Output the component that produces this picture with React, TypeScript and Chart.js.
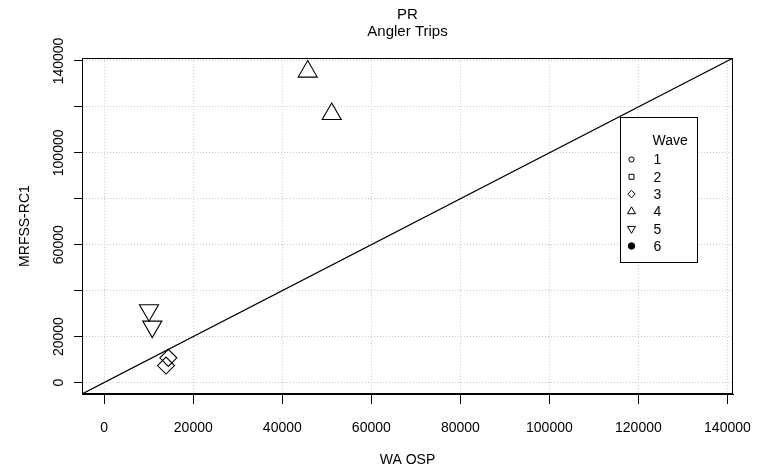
import React, { useEffect, useRef } from 'react';
import { Chart, registerables } from 'chart.js';
import { drawPoint } from 'chart.js/helpers';

Chart.register(...registerables);

// ---- data ----
const axisRange = [-5000, 141250];
const tickValues = [0, 20000, 40000, 60000, 80000, 100000, 120000, 140000];
const yLabelValues = [0, 20000, 60000, 100000, 140000];
const waves = ['1', '2', '3', '4', '5', '6'];
const wave1X: number[] = [];
const wave1Y: number[] = [];
const wave2X: number[] = [];
const wave2Y: number[] = [];
const wave3X = [14390, 13870];
const wave3Y = [10730, 7390];
const wave4X = [45705, 51095];
const wave4Y = [135380, 116910];
const wave5X = [10050, 10790];
const wave5Y = [31465, 24340];
const wave6X: number[] = [];
const wave6Y: number[] = [];
const titleLines = ['PR', 'Angler Trips'];
const xTitle = 'WA OSP';
const yTitle = 'MRFSS-RC1';
const legendTitle = 'Wave';

// ---- styles ----
const FONT = "'Liberation Sans', Arial, Helvetica, sans-serif";
const pointStyles = ['circle', 'rect', 'rectRot', 'triangle', 'triangle', 'circle'];
const pointRotations = [0, 0, 0, 0, 180, 0];
const pointRadii = [5, 6, 8.5, 11, 11, 5];
const pointFills = ['rgba(0,0,0,0)', 'rgba(0,0,0,0)', 'rgba(0,0,0,0)', 'rgba(0,0,0,0)', 'rgba(0,0,0,0)', '#000'];
const legendRadii = [2.6, 3.5, 3.7, 4.6, 4.6, 3.2];

const toPoints = (xs: number[], ys: number[]) => xs.map((x, i) => ({ x, y: ys[i] }));
const waveData = [
  toPoints(wave1X, wave1Y),
  toPoints(wave2X, wave2Y),
  toPoints(wave3X, wave3Y),
  toPoints(wave4X, wave4Y),
  toPoints(wave5X, wave5Y),
  toPoints(wave6X, wave6Y),
];

const framePlugin = {
  id: 'frame',
  afterDatasetsDraw(chart: any) {
    const { ctx, chartArea } = chart;
    const l = Math.round(chartArea.left) + 0.5;
    const t = Math.round(chartArea.top) + 0.5;
    const r = Math.round(chartArea.right) - 0.5;
    const b = Math.round(chartArea.bottom) - 0.5;
    ctx.save();
    ctx.strokeStyle = '#000';
    ctx.lineWidth = 1;
    ctx.strokeRect(l, t, r - l, b - t);
    ctx.restore();
  },
};

const legendPlugin = {
  id: 'waveLegend',
  afterDatasetsDraw(chart: any) {
    const { ctx, chartArea } = chart;
    const bx = Math.round(chartArea.left + (chartArea.right - chartArea.left) * 0.8265) + 0.5;
    const by = Math.round(chartArea.top + (chartArea.bottom - chartArea.top) * 0.1756) + 0.5;
    const bw = 77;
    const bh = 145;
    ctx.save();
    ctx.fillStyle = '#fff';
    ctx.fillRect(bx, by, bw, bh);
    ctx.strokeStyle = '#000';
    ctx.lineWidth = 1;
    ctx.strokeRect(bx, by, bw, bh);
    ctx.fillStyle = '#000';
    ctx.font = `14px ${FONT}`;
    ctx.textBaseline = 'middle';
    ctx.textAlign = 'left';
    ctx.fillText(legendTitle, bx + 32, by + 24);
    waves.forEach((w, i) => {
      const cy = by + 42 + i * 17.3;
      ctx.fillStyle = '#000';
      ctx.fillText(w, bx + 33, cy + 1);
      ctx.strokeStyle = '#000';
      ctx.fillStyle = pointFills[i] === '#000' ? '#000' : '#fff';
      ctx.lineWidth = 1;
      drawPoint(ctx, {
        pointStyle: pointStyles[i],
        rotation: pointRotations[i],
        radius: legendRadii[i],
        borderWidth: 1,
      } as any, bx + 11, cy);
    });
    ctx.restore();
  },
};

export default function App() {
  const ref = useRef<HTMLCanvasElement | null>(null);

  useEffect(() => {
    if (!ref.current) return;
    const datasets: any[] = waves.map((w, i) => ({
      type: 'scatter',
      label: w,
      data: waveData[i],
      pointStyle: pointStyles[i],
      rotation: pointRotations[i],
      pointRadius: pointRadii[i],
      pointBorderWidth: 1.1,
      borderColor: '#000',
      backgroundColor: pointFills[i],
      showLine: false,
    }));
    datasets.push({
      type: 'line',
      label: 'identity',
      data: [
        { x: axisRange[0], y: axisRange[0] },
        { x: axisRange[1], y: axisRange[1] },
      ],
      borderColor: '#000',
      borderWidth: 1.2,
      pointRadius: 0,
      fill: false,
    });

    const chart = new Chart(ref.current, {
      type: 'scatter',
      data: { datasets },
      options: {
        responsive: false,
        animation: false,
        layout: { padding: { left: 0, right: 25, top: 0, bottom: 0 } },
        plugins: {
          legend: { display: false },
          tooltip: { enabled: false },
          title: {
            display: true,
            fullSize: false,
            text: titleLines,
            color: '#000',
            font: { family: FONT, size: 15, weight: 'normal', lineHeight: 1.17 },
            padding: { top: 6, bottom: 17 },
          },
        },
        scales: {
          x: {
            type: 'linear',
            min: axisRange[0],
            max: axisRange[1],
            afterBuildTicks: (scale: any) => {
              scale.ticks = tickValues.map((v) => ({ value: v }));
            },
            afterFit: (scale: any) => {
              scale.height = 79;
              scale.paddingLeft = 0;
              scale.paddingRight = 0;
            },
            grid: {
              color: '#c8c8c8',
              tickColor: '#000',
              tickLength: 10,
              drawOnChartArea: true,
              drawTicks: true,
              tickBorderDash: [],
            },
            border: { display: true, color: '#000', width: 1, dash: [1, 2] },
            ticks: {
              color: '#000',
              font: { family: FONT, size: 14 },
              padding: 16,
              maxRotation: 0,
              minRotation: 0,
              autoSkip: false,
              callback: (v: any) => String(v),
            },
            title: {
              display: true,
              text: xTitle,
              color: '#000',
              font: { family: FONT, size: 14 },
              padding: { top: 0, bottom: 4 },
            },
          },
          y: {
            type: 'linear',
            min: axisRange[0],
            max: axisRange[1],
            afterBuildTicks: (scale: any) => {
              scale.ticks = tickValues.map((v) => ({ value: v }));
            },
            afterFit: (scale: any) => {
              scale.width = 82;
              scale.paddingTop = 0;
              scale.paddingBottom = 0;
            },
            grid: {
              color: '#c8c8c8',
              tickColor: '#000',
              tickLength: 8,
              drawOnChartArea: true,
              drawTicks: true,
              tickBorderDash: [],
            },
            border: { display: true, color: '#000', width: 1, dash: [1, 2] },
            ticks: {
              color: '#000',
              font: { family: FONT, size: 14 },
              padding: -8,
              minRotation: 90,
              maxRotation: 90,
              crossAlign: 'center',
              autoSkip: false,
              callback: (v: any) => (yLabelValues.includes(Number(v)) ? String(v) : ''),
            },
            title: {
              display: true,
              text: yTitle,
              color: '#000',
              font: { family: FONT, size: 14 },
              padding: { top: 17, bottom: 0 },
            },
          },
        },
      } as any,
      plugins: [framePlugin, legendPlugin],
    });
    return () => chart.destroy();
  }, []);

  return (
    <div style={{ position: 'absolute', left: 0, top: 0, width: 758, height: 473, background: '#fff' }}>
      <canvas ref={ref} width={758} height={473} style={{ display: 'block' }} />
    </div>
  );
}
